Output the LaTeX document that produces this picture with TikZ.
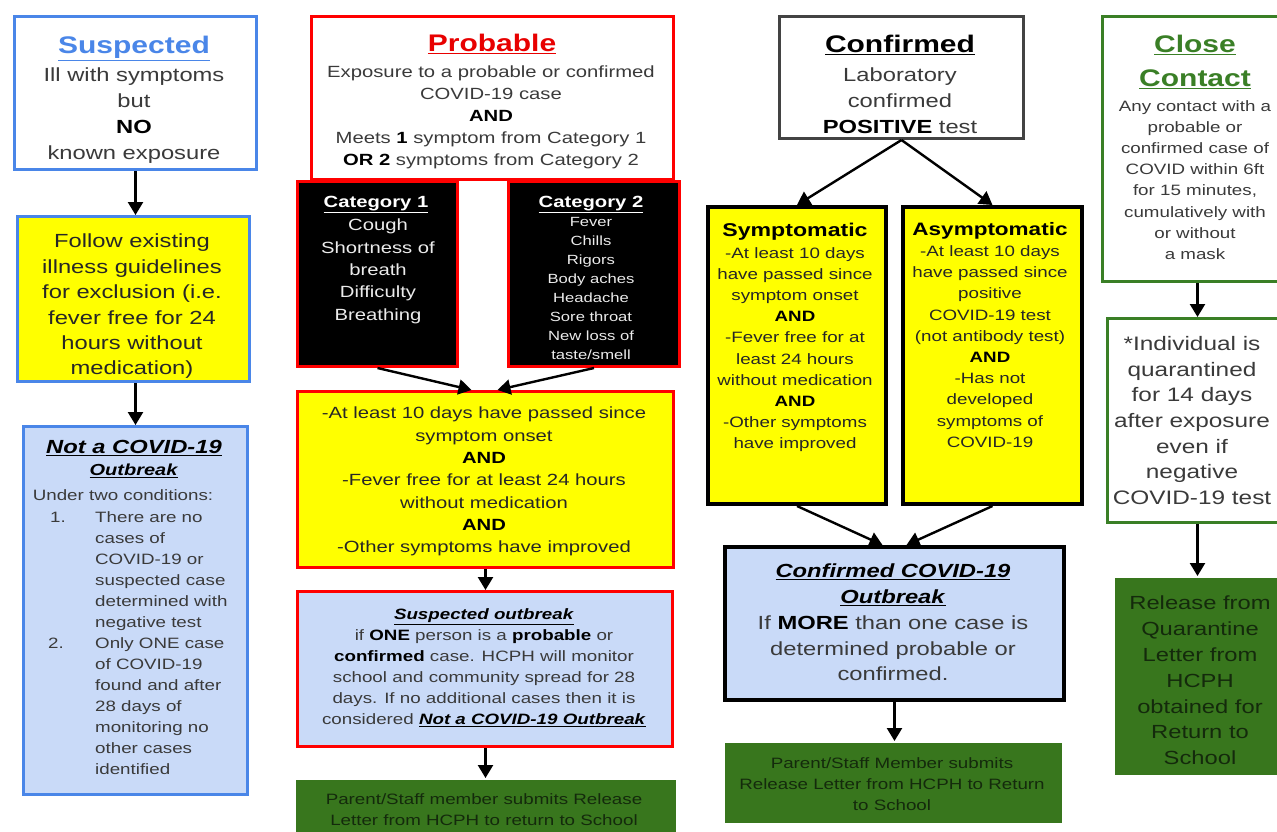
\documentclass[tikz,border=0pt]{standalone}
\usepackage{fontspec}
\setmainfont{Liberation Sans}[FakeStretch=1.25]
\usetikzlibrary{arrows.meta,calc}
\definecolor{gblue}{HTML}{4A86E8}
\definecolor{gred}{HTML}{FF0000}
\definecolor{tred}{HTML}{E80000}
\definecolor{gyellow}{HTML}{FFFF00}
\definecolor{lblue}{HTML}{C9DAF8}
\definecolor{dgreen}{HTML}{38761D}
\definecolor{ggreen}{HTML}{3A7F26}
\definecolor{ggray}{HTML}{434343}
\definecolor{tgray}{HTML}{3A3A3A}
\definecolor{tgreen}{HTML}{142A0C}
\newcommand{\fsz}[2]{\fontsize{#1}{#2}\selectfont}
\newcommand{\kbf}[1]{\textcolor{black}{\textbf{#1}}}
\newcommand{\biu}[1]{\textcolor{black}{\underline{\textbf{\textit{#1}}}}}
\begin{document}
\begin{tikzpicture}[x=1pt,y=-1pt,
  bx/.style={line width=3pt, inner sep=0pt, anchor=north west},
  bxblue/.style={bx, draw=gblue},
  bxred/.style={bx, draw=gred},
  bxblack/.style={bx, draw=black, line width=4pt},
  bxgreen/.style={bx, draw=ggreen},
  bxgray/.style={bx, draw=ggray},
  relbox/.style={bx, draw=none, fill=dgreen},
  tx/.style={align=center, inner sep=0pt, anchor=north, text=tgray},
  arr/.style={line width=2.4pt, -{Triangle[width=15pt,length=13pt]}},
]
\useasboundingbox (0,0) rectangle (1277,831);
\clip (0,0) rectangle (1277,831);
\fill[white] (0,0) rectangle (1277,831);

% ---------- Column 1 : Suspected ----------
\node[bxblue, fill=white, minimum width=242pt, minimum height=153pt] (sus) at (13,15) {};
\node[tx, font={\fsz{24}{28}}, text=gblue] (sust) at (134,36) {\underline{\textbf{Suspected}}};
\node[tx, font={\fsz{19}{26}}] (susb) at (134,68) {Ill with symptoms\\but\\\kbf{NO}\\known exposure};

\node[bxblue, fill=gyellow, minimum width=232pt, minimum height=165pt] (fol) at (16,215) {};
\node[tx, font={\fsz{19}{25.4}}, text=black!85] (folt) at (132,234) {Follow existing\\illness guidelines\\for exclusion (i.e.\\fever free for 24\\hours without\\medication)};

\node[bxblue, fill=lblue, minimum width=224pt, minimum height=368pt] (nac) at (22,425) {};
\node[tx, font={\fsz{19}{22}}] (nact) at (134,440) {\biu{Not a COVID-19}};
\node[tx, font={\fsz{16}{20}}] (naco) at (134,464) {\biu{Outbreak}};
\node[tx, font={\fsz{15}{21}}] (nacu) at (123,489) {Under two conditions:};
\node[tx, anchor=north west, font={\fsz{15}{21}}] (nac1) at (50,511.5) {1.};
\node[tx, anchor=north west, font={\fsz{15}{21}}] (nac2) at (48,637.5) {2.};
\node[tx, anchor=north west, align=left, font={\fsz{15}{21}}] (nacl) at (95,511.5) {There are no\\cases of\\COVID-19 or\\suspected case\\determined with\\negative test\\Only ONE case\\of COVID-19\\found and after\\28 days of\\monitoring no\\other cases\\identified};

\draw[arr] (sus.south) -- (sus.south |- fol.north);
\draw[arr] (sus.south |- fol.south) -- (nac.north);

% ---------- Column 2 : Probable ----------
\node[bxred, fill=white, minimum width=362pt, minimum height=163pt] (prob) at (310,15) {};
\node[tx, font={\fsz{24}{28}}, text=tred] (probt) at (492,34) {\underline{\textbf{Probable}}};
\node[tx, font={\fsz{16.2}{22}}] (probb) at (491,66) {Exposure to a probable or confirmed\\COVID-19 case\\\kbf{AND}\\Meets \kbf{1} symptom from Category 1\\\kbf{OR 2} symptoms from Category 2};

\node[bxred, fill=black, minimum width=160pt, minimum height=185pt] (cat1) at (296,180) {};
\node[tx, font={\fsz{16.2}{20}}, text=white] (cat1t) at (376,196) {\underline{\textbf{Category 1}}};
\node[tx, font={\fsz{16.2}{22.3}}, text=white!92!black] (cat1b) at (378,219) {Cough\\Shortness of\\breath\\Difficulty\\Breathing};

\node[bxred, fill=black, minimum width=171pt, minimum height=185pt] (cat2) at (507,180) {};
\node[tx, font={\fsz{16.2}{20}}, text=white] (cat2t) at (591,196) {\underline{\textbf{Category 2}}};
\node[tx, font={\fsz{13.3}{19}}, text=white!92!black] (cat2b) at (591,217) {Fever\\Chills\\Rigors\\Body aches\\Headache\\Sore throat\\New loss of\\taste/smell};

\node[bxred, fill=gyellow, minimum width=376pt, minimum height=176pt] (crit) at (296,390) {};
\node[tx, font={\fsz{16.2}{22.3}}, text=black!85] (critt) at (484,407) {-At least 10 days have passed since\\symptom onset\\\kbf{AND}\\-Fever free for at least 24 hours\\without medication\\\kbf{AND}\\-Other symptoms have improved};

\node[bxred, fill=lblue, minimum width=375pt, minimum height=155pt] (sob) at (296,590) {};
\node[tx, font={\fsz{15}{21}}] (sobt) at (484,608.5) {\biu{Suspected outbreak}\\if \kbf{ONE} person is a \kbf{probable} or\\\kbf{confirmed} case. HCPH will monitor\\school and community spread for 28\\days. If no additional cases then it is\\considered \biu{Not a COVID-19 Outbreak}};

\node[relbox, minimum width=380pt, minimum height=70pt] (rel1) at (294,778) {};
\node[tx, font={\fsz{15}{21}}, text=tgreen] (rel1t) at (484,793.5) {Parent/Staff member submits Release\\Letter from HCPH to return to School};

\draw[arr] (cat1.south) -- ($(crit.north)+(-14,0)$);
\draw[arr] (cat2.south) -- ($(crit.north)+(12,0)$);
\draw[arr] (crit.south) -- (crit.south |- sob.north);
\draw[arr] (crit.south |- sob.south) -- (crit.south |- rel1.north);

% ---------- Column 3 : Confirmed ----------
\node[bxgray, fill=white, minimum width=244pt, minimum height=122pt] (conf) at (778,15) {};
\node[tx, font={\fsz{24}{28}}, text=black] (conft) at (900,35) {\underline{\textbf{Confirmed}}};
\node[tx, font={\fsz{19}{26}}] (confb) at (900,68) {Laboratory\\confirmed\\\kbf{POSITIVE} test};

\node[bxblack, fill=gyellow, minimum width=178pt, minimum height=297pt] (sym) at (706,205) {};
\node[tx, font={\fsz{18.5}{22}}, text=black] (symt) at (795,223) {\textbf{Symptomatic}};
\node[tx, font={\fsz{15}{21.1}}, text=black!85] (symb) at (795,247.5) {-At least 10 days\\have passed since\\symptom onset\\\kbf{AND}\\-Fever free for at\\least 24 hours\\without medication\\\kbf{AND}\\-Other symptoms\\have improved};

\node[bxblack, fill=gyellow, minimum width=179pt, minimum height=297pt] (asym) at (901,205) {};
\node[tx, font={\fsz{18}{22}}, text=black] (asymt) at (990,222) {\textbf{Asymptomatic}};
\node[tx, font={\fsz{15}{21.2}}, text=black!85] (asymb) at (990,245.5) {-At least 10 days\\have passed since\\positive\\COVID-19 test\\(not antibody test)\\\kbf{AND}\\-Has not\\developed\\symptoms of\\COVID-19};

\node[bxblack, fill=lblue, minimum width=339pt, minimum height=153pt] (cob) at (723,545) {};
\node[tx, font={\fsz{19}{25.7}}] (cobt) at (893,564) {\biu{Confirmed COVID-19}\\\biu{Outbreak}\\If \kbf{MORE} than one case is\\determined probable or\\confirmed.};

\node[relbox, minimum width=337pt, minimum height=80pt] (rel2) at (723,741) {};
\node[tx, font={\fsz{15}{21}}, text=tgreen] (rel2t) at (892,757.5) {Parent/Staff Member submits\\Release Letter from HCPH to Return\\to School};

\draw[arr] (conf.south) -- (sym.north);
\draw[arr] (conf.south) -- (asym.north);
\draw[arr] (sym.south) -- ($(cob.north)+(-12,0)$);
\draw[arr] (asym.south) -- ($(cob.north)+(12,0)$);
\draw[arr] (cob.south) -- (cob.south |- rel2.north);

% ---------- Column 4 : Close Contact ----------
\node[bxgreen, fill=white, minimum width=190pt, minimum height=265pt] (cc) at (1101,15) {};
\node[tx, font={\fsz{24}{34}}, text=ggreen] (cct) at (1195,35) {\underline{\textbf{Close}}\\\underline{\textbf{Contact}}};
\node[tx, font={\fsz{15}{21.1}}] (ccb) at (1195,100.5) {Any contact with a\\probable or\\confirmed case of\\COVID within 6ft\\for 15 minutes,\\cumulatively with\\or without\\a mask};

\node[bxgreen, fill=white, minimum width=180pt, minimum height=204pt] (ind) at (1106,317) {};
\node[tx, font={\fsz{19.5}{25.7}}] (indt) at (1192,336) {*Individual is\\quarantined\\for 14 days\\after exposure\\even if\\negative\\COVID-19 test};

\node[relbox, minimum width=170pt, minimum height=197pt] (rq) at (1113,576) {};
\node[tx, font={\fsz{19}{25.8}}, text=tgreen] (rqt) at (1200,596) {Release from\\Quarantine\\Letter from\\HCPH\\obtained for\\Return to\\School};

\draw[arr] (cc.south) -- (cc.south |- ind.north);
\draw[arr] (cc.south |- ind.south) -- (cc.south |- rq.north);
\end{tikzpicture}
\end{document}
